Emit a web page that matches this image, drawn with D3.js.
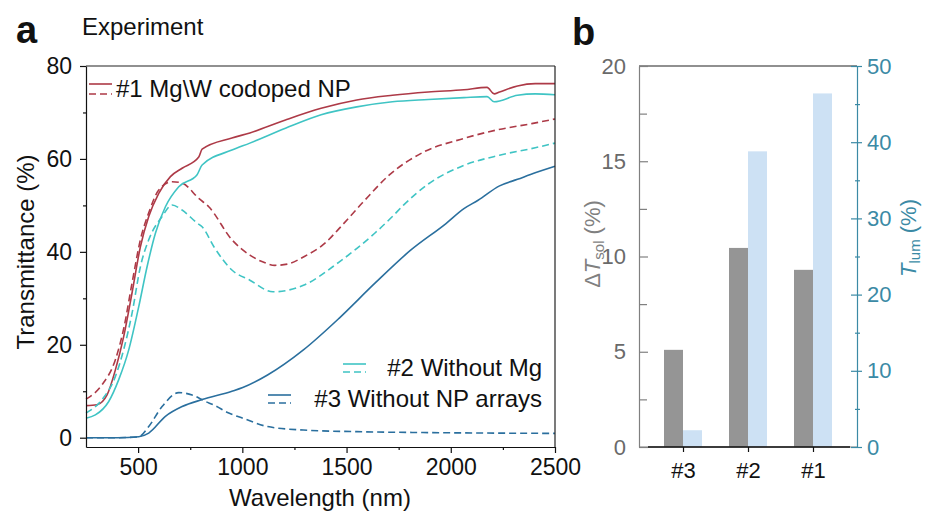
<!DOCTYPE html>
<html><head><meta charset="utf-8">
<script src="https://cdn.jsdelivr.net/npm/d3@7"></script>
<style>
html,body{margin:0;padding:0;background:#fff;}
svg{display:block;font-family:"Liberation Sans",Arial,Helvetica,sans-serif;}
</style></head>
<body>
<svg id="chart" width="928" height="516"></svg>
<script>
// ---------- Panel a data ----------
const wl1  = [250,303,351,391,431,471,511,551,599,655,711,791,807,950,1036,1207,1378,1549,1720,1892,2063,2174,2208,2234,2320,2405,2500];
const t1   = [6.9,7.1,9.2,14.6,21.8,31.2,41.1,47.6,52.6,56.2,58,60.4,62.1,64.5,65.6,68.4,70.9,72.7,73.7,74.4,74.9,75.4,74,74.4,75.7,76.2,76.2];
const wl1d = [250,327,391,431,471,511,551,599,663,711,791,839,950,1036,1100,1156,1220,1293,1400,1464,1575,1704,1875,2046,2217,2388,2500];
const t1d  = [8.3,11.4,16.8,23.5,33.3,42.6,48.4,53.3,55.1,54.8,51.5,49.7,42.6,39.3,37.8,37.1,37.4,38.9,42,45,50.5,56.5,61.6,64.2,66.2,67.6,68.6];
const wl2  = [250,295,359,407,455,503,543,583,631,695,783,807,950,1036,1207,1378,1549,1720,1892,2063,2174,2208,2320,2405,2500];
const t2   = [4.2,4.9,7.8,12.5,18.9,28.2,36.8,44,49.7,54,56.6,58.7,61.9,63.4,66.6,69.5,71.2,72.3,72.8,73.2,73.4,72.3,73.7,74,73.8];
const wl2d = [250,327,391,431,471,511,551,615,663,711,783,807,865,950,1036,1147,1293,1464,1635,1720,1772,1892,2063,2234,2405,2500];
const t2d  = [5.3,8.2,13.2,19,26.8,36.8,42.6,47.6,50.1,49,46.2,45.4,41,36.1,33.9,31.4,32.8,37.8,44,47.6,50,54.6,58.6,60.8,62.4,63.4];
const wl3  = [250,400,503,551,631,711,807,950,1002,1121,1293,1464,1635,1806,1977,2063,2131,2234,2320,2405,2500];
const t3   = [0,0,0.2,1.0,4.6,6.7,8.2,10,10.8,13.5,18.9,25.7,33.2,40.3,46.1,49.3,51.1,54.2,55.6,57,58.4];
const wl3d = [250,400,503,551,615,695,759,823,865,935,1002,1121,1293,1549,1892,2500];
const t3d  = [0,0,0.2,2.4,6.7,9.7,9.2,7.8,7.0,5.3,4.2,2.4,1.65,1.3,1.1,0.93];

const xTicksA = [500,1000,1500,2000,2500];
const yTicksA = [0,20,40,60,80];
const legendLabels = ["#1 Mg\\W codoped NP","#2 Without Mg","#3 Without NP arrays"];

// ---------- Panel b data ----------
const samples = ["#3","#2","#1"];
const dTsol = [5.1,10.45,9.3];
const Tlum  = [2.2,38.8,46.4];
const yTicksBL = [0,5,10,15,20];
const yTicksBR = [0,10,20,30,40,50];

// ---------- colours ----------
const cRed = "#ad3a47", cCyan = "#3fc4c4", cBlue = "#2a6f9e";
const cGray = "#959595", cLight = "#cde1f4", cTeal = "#3b8aa5", cAxGray = "#808080";

const svg = d3.select("#chart");

// ================= Panel a =================
const xA = d3.scaleLinear().domain([250,2500]).range([86,555]);
const yA = d3.scaleLinear().domain([-2,80]).range([447,66]);
const gA = svg.append("g");

const series = [
  {w:wl1,  t:t1,  c:cRed,  dash:null},
  {w:wl1d, t:t1d, c:cRed,  dash:"7,4"},
  {w:wl2,  t:t2,  c:cCyan, dash:null},
  {w:wl2d, t:t2d, c:cCyan, dash:"7,4"},
  {w:wl3,  t:t3,  c:cBlue, dash:null},
  {w:wl3d, t:t3d, c:cBlue, dash:"7,4"}
];
const line = d3.line().x(d=>xA(d[0])).y(d=>yA(d[1])).curve(d3.curveMonotoneX);
series.forEach(s=>{
  gA.append("path")
    .attr("d", line(s.w.map((w,i)=>[w,s.t[i]])))
    .attr("fill","none").attr("stroke",s.c).attr("stroke-width",1.6)
    .attr("stroke-dasharray",s.dash);
});

// frame
gA.append("line").attr("x1",xA(250)).attr("x2",xA(2500)).attr("y1",yA(80)).attr("y2",yA(80)).attr("stroke","#222").attr("stroke-width",1.2);
gA.append("line").attr("x1",xA(2500)).attr("x2",xA(2500)).attr("y1",yA(80)).attr("y2",yA(-2)).attr("stroke","#222").attr("stroke-width",1.2);

function styleAxis(g,color,size){
  g.selectAll("path,line").attr("stroke",color).attr("stroke-width",1.2);
  g.selectAll("text").attr("fill",color).attr("font-size",size).attr("font-family","Liberation Sans, Arial, sans-serif");
}
const fmt = d3.format("d");
const axL = gA.append("g").attr("transform",`translate(${xA(250)},0)`)
  .call(d3.axisLeft(yA).tickValues(yTicksA).tickFormat(fmt).tickSize(6).tickSizeOuter(0).tickPadding(8));
styleAxis(axL,"#111",23);
const axLm = gA.append("g").attr("transform",`translate(${xA(250)},0)`)
  .call(d3.axisLeft(yA).tickValues([10,30,50,70]).tickSize(3).tickSizeOuter(0).tickFormat(""));
styleAxis(axLm,"#111",23); axLm.select(".domain").remove();

const axB = gA.append("g").attr("transform",`translate(0,${yA(-2)})`)
  .call(d3.axisBottom(xA).tickValues(xTicksA).tickFormat(fmt).tickSize(6).tickSizeOuter(0).tickPadding(6));
styleAxis(axB,"#111",23);
const axBm = gA.append("g").attr("transform",`translate(0,${yA(-2)})`)
  .call(d3.axisBottom(xA).tickValues([750,1250,1750,2250]).tickSize(3).tickFormat(""));
styleAxis(axBm,"#111",23); axBm.select(".domain").remove();

// titles
gA.append("text").attr("x",320).attr("y",506).attr("text-anchor","middle")
  .attr("font-size",24).attr("fill","#111").text("Wavelength (nm)");
gA.append("text").attr("transform","translate(34,252) rotate(-90)").attr("text-anchor","middle")
  .attr("font-size",24).attr("fill","#111").text("Transmittance (%)");
svg.append("text").attr("x",16).attr("y",43).attr("font-size",38).attr("font-weight","bold").attr("fill","#111").text("a");
svg.append("text").attr("x",82).attr("y",35).attr("font-size",24).attr("fill","#111").text("Experiment");

// legends
function legendEntry(xs, ySolid, yDash, color, tx, ty, anchor, label){
  gA.append("line").attr("x1",xs).attr("x2",xs+23).attr("y1",ySolid).attr("y2",ySolid).attr("stroke",color).attr("stroke-width",1.6);
  gA.append("line").attr("x1",xs).attr("x2",xs+23).attr("y1",yDash).attr("y2",yDash).attr("stroke",color).attr("stroke-width",1.6).attr("stroke-dasharray","7,4");
  gA.append("text").attr("x",tx).attr("y",ty).attr("text-anchor",anchor).attr("font-size",24).attr("fill","#111").text(label);
}
legendEntry(89, 84, 94, cRed, 116, 97, "start", legendLabels[0]);
legendEntry(343, 364, 372, cCyan, 542, 376, "end", legendLabels[1]);
legendEntry(268, 395, 403, cBlue, 542, 407, "end", legendLabels[2]);

// ================= Panel b =================
const xB = d3.scalePoint().domain(samples).range([639,857]).padding(0.677);
const yBL = d3.scaleLinear().domain([0,20]).range([447,66]);
const yBR = d3.scaleLinear().domain([0,50]).range([447,66]);
const gB = svg.append("g");
const bw = 19;

gB.selectAll("rect.g").data(samples).join("rect")
  .attr("x",d=>xB(d)-bw).attr("width",bw)
  .attr("y",(d,i)=>yBL(dTsol[i])).attr("height",(d,i)=>yBL(0)-yBL(dTsol[i]))
  .attr("fill",cGray);
gB.selectAll("rect.b").data(samples).join("rect")
  .attr("x",d=>xB(d)).attr("width",bw)
  .attr("y",(d,i)=>yBR(Tlum[i])).attr("height",(d,i)=>yBR(0)-yBR(Tlum[i]))
  .attr("fill",cLight);

// top line
gB.append("line").attr("x1",639).attr("x2",857).attr("y1",yBL(20)).attr("y2",yBL(20)).attr("stroke","#222").attr("stroke-width",1.2);
// bottom axis (gray) + black zero line
gB.append("line").attr("x1",639).attr("x2",857).attr("y1",yBL(0)).attr("y2",yBL(0)).attr("stroke",cAxGray).attr("stroke-width",1.2);
gB.append("line").attr("x1",648).attr("x2",850).attr("y1",yBL(0)).attr("y2",yBL(0)).attr("stroke","#111").attr("stroke-width",1.4);

const axBB = gB.append("g").attr("transform",`translate(0,${yBL(0)})`)
  .call(d3.axisBottom(xB).tickSize(5).tickSizeOuter(0).tickPadding(10));
styleAxis(axBB,"#111",22); axBB.select(".domain").remove();

const axBL = gB.append("g").attr("transform","translate(639,0)")
  .call(d3.axisLeft(yBL).tickValues(yTicksBL).tickSizeInner(-9).tickSizeOuter(0).tickPadding(13));
styleAxis(axBL,cAxGray,22); axBL.selectAll("text").attr("fill","#6a6a6a");
const axBLm = gB.append("g").attr("transform","translate(639,0)")
  .call(d3.axisLeft(yBL).tickValues([2.5,7.5,12.5,17.5]).tickSizeInner(-8).tickSizeOuter(0).tickFormat(""));
styleAxis(axBLm,cAxGray,22); axBLm.select(".domain").remove();

const axBR = gB.append("g").attr("transform","translate(857,0)")
  .call(d3.axisRight(yBR).tickValues(yTicksBR).tickSize(5).tickSizeOuter(0).tickPadding(5));
styleAxis(axBR,cTeal,22);
axBR.selectAll(".tick line").attr("x1",-6);
const axBRm = gB.append("g").attr("transform","translate(857,0)")
  .call(d3.axisRight(yBR).tickValues([5,15,25,35,45]).tickSize(3).tickFormat(""));
styleAxis(axBRm,cTeal,22); axBRm.select(".domain").remove();
axBRm.selectAll(".tick line").attr("x1",-2);

// titles panel b
const tl = gB.append("text").attr("transform","translate(600,244) rotate(-90)").attr("text-anchor","middle")
  .attr("font-size",22).attr("fill",cAxGray);
tl.append("tspan").text("\u0394");
tl.append("tspan").attr("font-style","italic").text("T");
tl.append("tspan").attr("font-size",15).attr("dy",4).text("sol");
tl.append("tspan").attr("dy",-4).text(" (%)");

const tr = gB.append("text").attr("transform","translate(916,238) rotate(-90)").attr("text-anchor","middle")
  .attr("font-size",22).attr("fill",cTeal);
tr.append("tspan").attr("font-style","italic").text("T");
tr.append("tspan").attr("font-size",15).attr("dy",4).text("lum");
tr.append("tspan").attr("dy",-4).text(" (%)");

svg.append("text").attr("x",572).attr("y",45).attr("font-size",38).attr("font-weight","bold").attr("fill","#111").text("b");
</script>
</body></html>
